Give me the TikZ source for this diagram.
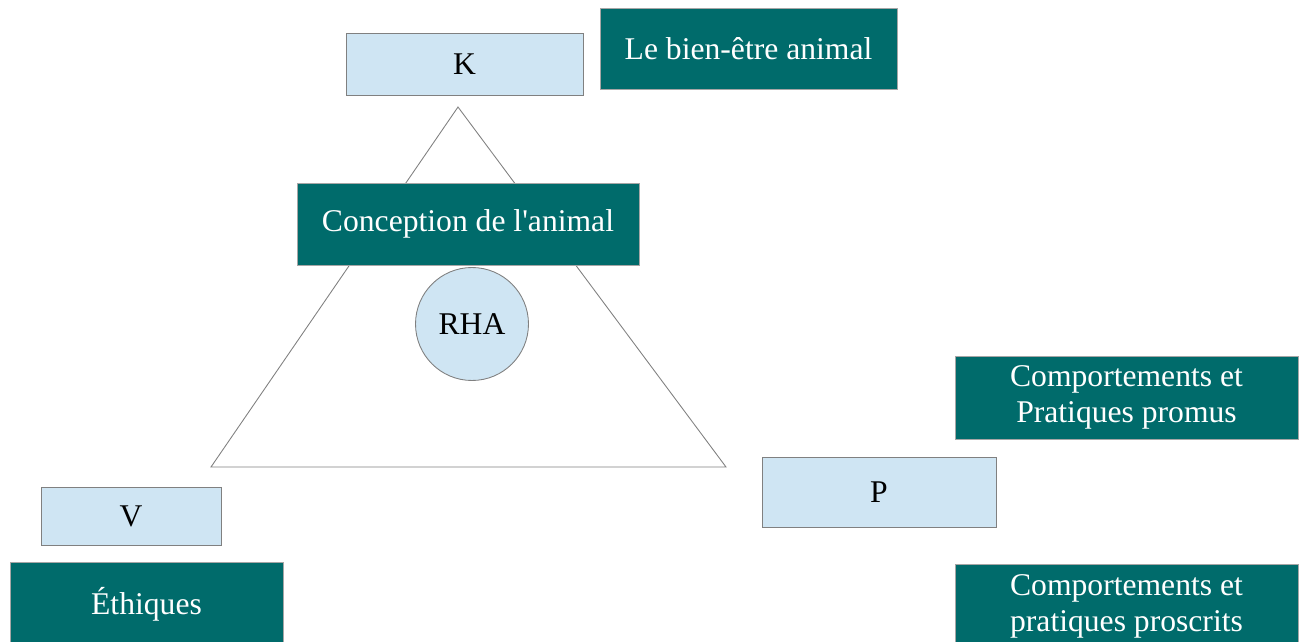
\documentclass[tikz,border=0pt]{standalone}
\usepackage{fontspec}
\setmainfont{Liberation Serif}
\definecolor{teal}{RGB}{0,107,107}
\definecolor{lightblue}{RGB}{207,229,243}
\tikzset{
  lightbox/.style={draw=gray,fill=lightblue,line width=0.5pt,inner sep=0pt,text=black},
  tealbox/.style={draw=gray!70,fill=teal,line width=0.5pt,inner sep=0pt,text=white,align=center},
}
\begin{document}
\begin{tikzpicture}[x=0.02cm,y=-0.02cm,font=\fontsize{18}{20.5}\selectfont]
\useasboundingbox (0,0) rectangle (1306,642);
\draw[gray,line width=0.5pt] (458,107) -- (211,467) -- (726,467) -- cycle;
\node[lightbox,minimum width=4.74cm,minimum height=1.24cm] (K) at (464.5,64) {K};
\node[tealbox,minimum width=5.94cm,minimum height=1.62cm] (bienetre) at (748.5,48.5) {Le bien-être animal};
\node[tealbox,minimum width=6.84cm,minimum height=1.64cm] (conception) at (468,224) {Conception de l\textquotesingle animal};
\node[lightbox,circle,minimum size=2.26cm] (RHA) at (472,324) {RHA};
\node[lightbox,minimum width=3.6cm,minimum height=1.16cm] (V) at (131,516) {V};
\node[tealbox,minimum width=5.46cm,minimum height=1.68cm] (ethiques) at (146.5,604) {Éthiques};
\node[lightbox,minimum width=4.68cm,minimum height=1.4cm] (P) at (879,492) {P};
\node[tealbox,minimum width=6.86cm,minimum height=1.66cm] (promus) at (1126.5,397.5) {Comportements et\\Pratiques promus};
\node[tealbox,minimum width=6.86cm,minimum height=1.68cm] (proscrits) at (1126.5,606) {Comportements et\\pratiques proscrits};
\end{tikzpicture}
\end{document}
